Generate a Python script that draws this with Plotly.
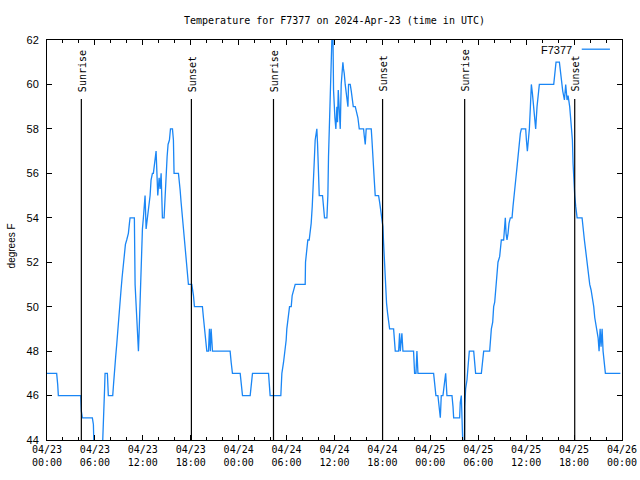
import plotly.graph_objects as go
import pandas as pd

title_text = "Temperature for F7377 on 2024-Apr-23 (time in UTC)"
series_name = "F7377"
y_title = "degrees F"
start = "2024-04-23 00:00"
span_hours = 72

# hours since 2024-04-23 00:00 UTC
hours = [
    0.00, 1.21, 1.34, 1.42, 4.22, 4.30, 4.43, 5.68, 5.81, 5.89, 6.93, 7.06, 7.14, 7.21, 7.27, 7.56, 7.68, 8.23, 8.33, 8.43,
    8.60, 8.73, 8.86, 8.98, 9.15, 9.27, 9.40, 9.52, 9.65, 9.82, 9.98, 10.19, 10.32, 10.40, 10.94, 11.03, 11.24, 11.32, 11.45, 11.53,
    11.65, 11.74, 11.86, 11.95, 12.07, 12.20, 12.28, 12.41, 12.57, 12.91, 13.03, 13.20, 13.32, 13.53, 13.66, 13.87, 14.04, 14.16, 14.29, 14.37,
    14.45, 14.66, 14.79, 14.91, 15.04, 15.16, 15.33, 15.46, 15.71, 15.83, 15.91, 16.46, 16.58, 16.67, 16.79, 16.96, 17.08, 17.21, 17.38, 17.50,
    17.63, 17.71, 18.13, 18.25, 18.34, 18.46, 19.46, 19.59, 19.72, 19.88, 20.01, 20.22, 20.34, 20.45, 20.55, 20.72, 22.93, 23.06, 23.22, 24.19,
    24.31, 24.48, 25.44, 25.56, 25.73, 27.74, 27.86, 27.94,
    29.28, 29.41, 29.62, 29.82, 29.95, 30.03, 30.20, 30.37, 30.58, 30.70, 31.08, 32.33, 32.37, 32.54, 32.66, 32.83, 32.96, 33.08, 33.21, 33.29,
    33.37, 33.46, 33.58, 33.71, 33.79, 33.88, 34.00, 34.09, 34.50, 34.63, 34.75, 35.05, 35.17, 35.25, 35.38, 35.46, 35.59, 35.71, 35.80, 35.88,
    36.05, 36.17, 36.30, 36.38, 36.47, 36.59, 36.72, 36.84, 37.05, 37.13, 37.22, 37.34, 37.47, 37.55, 37.68, 37.76, 37.97, 38.10, 38.22, 38.35,
    38.60, 38.81, 38.93, 39.10, 39.64, 39.72, 39.85, 39.97, 40.60, 40.69, 40.81, 40.98, 41.10, 41.52, 41.65, 41.81, 41.94, 42.06, 42.15, 42.27,
    42.40, 42.52, 42.65, 42.77, 42.90, 43.40, 43.52, 43.61, 44.03, 44.15, 44.24, 44.44, 44.57, 45.90, 46.03, 46.20, 46.32, 46.45, 48.41, 48.54,
    48.70, 48.95, 49.12, 49.25, 49.37, 49.58, 49.75, 49.92, 50.08, 50.71, 50.84, 50.92, 51.67, 51.75, 51.88, 52.01, 52.09, 52.26,
    52.30, 52.42, 52.59, 52.71, 52.88, 53.43, 53.55, 53.67, 54.39, 54.51, 54.68, 55.43, 55.51, 55.64, 55.81, 55.93, 56.06, 56.18, 56.35, 56.47,
    56.68, 56.77, 56.89, 57.18, 57.27, 57.39, 57.48, 57.60, 57.73, 57.85, 58.02, 58.23, 58.35, 58.52, 58.69, 58.86, 58.98, 59.11, 59.27, 59.40,
    59.94, 60.03, 60.15, 60.28, 60.40, 60.53, 60.65, 60.78, 60.94, 61.07, 61.19, 61.36, 61.48, 61.65, 63.45, 63.58, 63.74, 64.16, 64.29, 64.41,
    64.58, 64.79, 64.95, 65.12, 65.25, 65.45, 65.62, 65.79, 65.87, 65.96, 66.08, 66.21, 66.38, 67.00, 67.13, 67.29, 67.46, 67.63, 67.84, 67.96,
    68.13, 68.30, 68.46, 68.59, 68.71, 68.88, 69.01, 69.13, 69.26, 69.38, 69.51, 69.63, 69.80, 69.92, 71.80,
]

temps = [
    47, 47, 46.5, 46, 46, 45.3, 45, 45, 44.7, 43.5, 43.5, 44.5, 45.4, 46.3, 47, 47, 46, 46, 46.5, 47.2,
    47.75, 48.3, 49, 49.5, 50.2, 50.75, 51.3, 51.7, 52.25, 52.8, 53, 53.3, 53.75, 54, 54, 51, 49.5, 48.5, 48, 48.8,
    50.2, 51.5, 52.5, 53.5, 54, 55, 55, 53.5, 54, 55, 55.7, 56, 56, 56.75, 57, 55, 55.8, 55.3, 56, 55,
    54, 54, 55, 56.3, 56.75, 57.3, 57.5, 58, 58, 57.5, 56, 56, 55.7, 55.25, 54.7, 54, 53.75, 53, 52.5, 52,
    51.5, 51, 51, 50.75, 50.5, 50, 50, 49.5, 49, 48.5, 48, 48, 49, 48, 49, 48, 48, 47.5, 47, 47,
    46.5, 46, 46, 46.5, 47, 47, 46.5, 46,
    46, 47, 47.5, 48, 48.5, 49, 49.5, 50, 50, 50.5, 51, 51, 52, 52.5, 53, 53, 53.3, 53.75, 54.5, 55,
    55.5, 56.5, 57.5, 58, 58, 57.3, 55.5, 55, 55, 54.6, 54, 54, 55, 56.75, 58.25, 59.7, 61.5, 62.5, 62.5, 59.75,
    58.5, 58, 59, 58.3, 59.75, 59.1, 58, 60, 61, 60.7, 60.5, 60, 59.7, 59.3, 59, 60, 60, 59.7, 59.3, 59,
    59, 58.7, 58.5, 58, 58, 57.7, 57.3, 58, 58, 57.5, 56.5, 55.7, 55, 55, 54.7, 54.3, 54, 53.6, 52.85, 51.7,
    50.75, 50.15, 49.7, 49.25, 49, 49, 48.5, 48, 48, 48.8, 48, 48.8, 48, 48, 47, 47, 48, 47, 47, 46.5,
    46, 46, 45.5, 45, 46, 46, 46.5, 47, 46, 46, 45.5, 45, 45, 45.7, 46, 45, 43.5, 43.5,
    45.5, 46.3, 46.7, 47.25, 48, 48, 47.5, 47, 47, 47.5, 48, 48, 48.5, 49, 49.3, 50, 50.2, 50.75, 51.3, 52,
    52.25, 52.8, 53, 53, 53.6, 54, 53.3, 53, 53.3, 53.75, 54, 54, 54.5, 55, 55.7, 56.3, 56.75, 57.3, 57.8, 58,
    58, 57.5, 57, 57.5, 58, 59, 60, 59.6, 58.85, 58.5, 58, 59, 59.5, 60, 60, 60.65, 61, 61, 60.5, 60,
    59.7, 59.3, 60, 59.3, 59.5, 59, 58.25, 57.5, 56.45, 55.7, 55, 54.5, 54, 54, 53.45, 53, 52.5, 52, 51.3, 51,
    50.75, 50.45, 50, 49.5, 49.25, 49, 48.6, 48, 49, 48.2, 49, 48, 47.5, 47, 47,
]

sunrise_hours = [4.30, 28.36, 52.30]
sunset_hours = [18.08, 42.02, 66.08]

y_min, y_max, y_step = 44, 62, 2

base = pd.Timestamp(start)
def to_time(h):
    return (base + pd.Timedelta(hours=h)).strftime("%Y-%m-%d %H:%M:%S")

x_vals = [to_time(h) for h in hours]

MONO = "DejaVu Sans Mono"
SANS = "Liberation Sans"
LINE_COLOR = "#1a86f5"

fig = go.Figure()
fig.add_trace(go.Scatter(
    x=x_vals, y=temps, mode="lines", name=series_name,
    line=dict(color=LINE_COLOR, width=1.3), showlegend=False, hoverinfo="skip",
))

shapes = []
annotations = []
for label, hs in (("Sunrise", sunrise_hours), ("Sunset", sunset_hours)):
    for h in hs:
        t = to_time(h)
        shapes.append(dict(type="line", xref="x", yref="paper", x0=t, x1=t, y0=0, y1=0.8525,
                           line=dict(color="black", width=1.2)))
        annotations.append(dict(x=t, y=0.868, xref="x", yref="paper", text=label, textangle=-90,
                                showarrow=False, xanchor="center", yanchor="bottom", xshift=1,
                                font=dict(family=MONO, size=10, color="black"), borderpad=0))

# legend entry (text left of sample line, as in reference)
annotations.append(dict(x=0.9153, y=0.976, xref="paper", yref="paper", text=series_name,
                        showarrow=False, xanchor="right", yanchor="middle",
                        font=dict(family=SANS, size=11, color="black"), borderpad=0))
shapes.append(dict(type="line", xref="paper", yref="paper", x0=0.93, x1=0.979, y0=0.977, y1=0.977,
                   line=dict(color=LINE_COLOR, width=1.3)))

# y axis title
annotations.append(dict(x=0, y=0.484, xref="paper", yref="paper", text=y_title, textangle=-90,
                        showarrow=False, xanchor="center", yanchor="middle", xshift=-36,
                        font=dict(family=SANS, size=10, color="black")))

fig.update_layout(
    width=640, height=480,
    margin=dict(l=47, r=18, t=40, b=40, autoexpand=False),
    paper_bgcolor="white", plot_bgcolor="white",
    title=dict(text=title_text, x=0.5, xref="paper", xanchor="center", y=1 - 20 / 480, yanchor="middle",
               font=dict(family=MONO, size=10, color="black")),
    shapes=shapes, annotations=annotations,
    showlegend=False, hovermode=False,
)

fig.update_xaxes(
    type="date", automargin=False,
    range=[to_time(0), to_time(span_hours)],
    tick0=to_time(0), dtick=6 * 3600 * 1000,
    tickformat="%m/%d<br>%H:%M",
    ticks="inside", ticklen=5, tickwidth=1, tickcolor="black",
    minor=dict(dtick=2 * 3600 * 1000, ticks="inside", ticklen=3, tickcolor="black", tickwidth=1),
    showline=True, linecolor="black", linewidth=1, mirror="allticks",
    showgrid=False, zeroline=False,
    tickfont=dict(family=MONO, size=10, color="black"),
)
fig.update_yaxes(
    automargin=False,
    range=[y_min, y_max], tick0=y_min, dtick=y_step,
    ticks="inside", ticklen=5, tickwidth=1, tickcolor="black",
    showline=True, linecolor="black", linewidth=1, mirror="allticks",
    showgrid=False, zeroline=False, ticklabelstandoff=5,
    tickfont=dict(family=SANS, size=11, color="black"),
)

fig.write_html("out.html", config={"displayModeBar": False, "staticPlot": True},
               post_script="document.body.style.margin='0px';document.body.style.padding='0px';")
